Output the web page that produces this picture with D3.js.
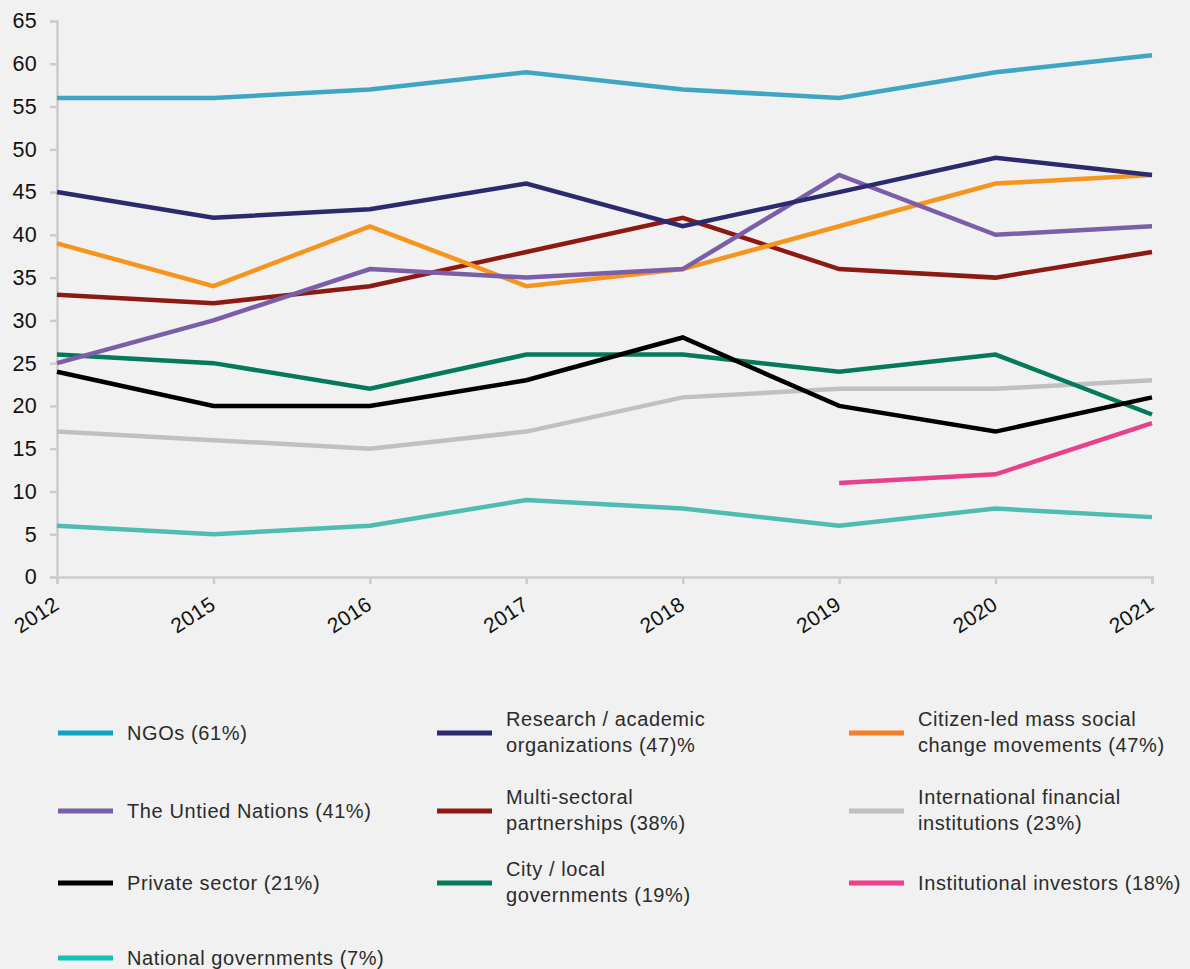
<!DOCTYPE html>
<html>
<head>
<meta charset="utf-8">
<script src="https://cdn.jsdelivr.net/npm/d3@7"></script>
<style>
  html, body { margin: 0; padding: 0; background: #f0f1f0; }
  svg { display: block; font-family: "Liberation Sans", Arial, sans-serif; }
</style>
</head>
<body>
<svg id="chart" width="1190" height="969"></svg>
<script>
const years = ['2012', '2015', '2016', '2017', '2018', '2019', '2020', '2021'];
const yTicks = [0, 5, 10, 15, 20, 25, 30, 35, 40, 45, 50, 55, 60, 65];

const ngos = [56, 56, 57, 59, 57, 56, 59, 61];
const research = [45, 42, 43, 46, 41, 45, 49, 47];
const citizen = [39, 34, 41, 34, 36, 41, 46, 47];
const unitedNations = [25, 30, 36, 35, 36, 47, 40, 41];
const multiSectoral = [33, 32, 34, 38, 42, 36, 35, 38];
const ifis = [17, 16, 15, 17, 21, 22, 22, 23];
const privateSector = [24, 20, 20, 23, 28, 20, 17, 21];
const cityGov = [26, 25, 22, 26, 26, 24, 26, 19];
const investors = [null, null, null, null, null, 11, 12, 18];
const nationalGov = [6, 5, 6, 9, 8, 6, 8, 7];

const seriesNames = [
    ['NGOs (61%)'],
    ['Research / academic', 'organizations (47)%'],
    ['Citizen-led mass social', 'change movements (47%)'],
    ['The Untied Nations (41%)'],
    ['Multi-sectoral', 'partnerships (38%)'],
    ['International financial', 'institutions (23%)'],
    ['Private sector (21%)'],
    ['City / local', 'governments (19%)'],
    ['Institutional investors (18%)'],
    ['National governments (7%)']
];
const seriesValues = [ngos, research, citizen, unitedNations, multiSectoral, ifis, privateSector, cityGov, investors, nationalGov];
const lineColors = ['#3ea6c3', '#2d296d', '#f7941d', '#7b5ea7', '#8c1a12', '#c0c0c0', '#000000', '#047a5b', '#e8418b', '#4fbcb3'];
const swatchColors = ['#0fa3c1', '#2d296d', '#f57e28', '#7b5ea7', '#8c1a12', '#c0c0c0', '#000000', '#047a5b', '#f03f8e', '#13c1b9'];

// drawing order: back to front
const drawOrder = [5, 9, 8, 7, 6, 4, 2, 3, 1, 0];

const svg = d3.select('#chart');

const x = d3.scalePoint().domain(years).range([57, 1152]);
const y = d3.scaleLinear().domain([0, 65]).range([577, 21]);

const axisColor = '#cccccc';
const fontFam = '"Liberation Sans", Arial, sans-serif';

// y axis
const yAxis = svg.append('g')
    .attr('transform', 'translate(57,0)')
    .call(d3.axisLeft(y).tickValues(yTicks).tickSize(7).tickPadding(13));
yAxis.select('.domain').attr('stroke', axisColor).attr('stroke-width', 2.5);
yAxis.selectAll('.tick line').attr('stroke', axisColor).attr('stroke-width', 2.5);
yAxis.selectAll('.tick text')
    .attr('font-size', 21.5)
    .attr('letter-spacing', 0.3)
    .attr('fill', '#111')
    .attr('font-family', fontFam);

// x axis
const xAxis = svg.append('g')
    .attr('transform', 'translate(0,577)')
    .call(d3.axisBottom(x).tickSize(7).tickSizeOuter(7));
xAxis.select('.domain').attr('stroke', axisColor).attr('stroke-width', 2.5);
xAxis.selectAll('.tick line').attr('stroke', axisColor).attr('stroke-width', 2.5);
xAxis.selectAll('.tick text')
    .attr('font-size', 21)
    .attr('letter-spacing', 0.3)
    .attr('fill', '#111')
    .attr('font-family', fontFam)
    .attr('text-anchor', 'end')
    .attr('x', 0)
    .attr('y', 0)
    .attr('dy', '0')
    .attr('transform', 'translate(3,31) rotate(-33)');

// lines
const line = d3.line()
    .defined(d => d != null)
    .x((d, i) => x(years[i]))
    .y(d => y(d));

drawOrder.forEach(k => {
    svg.append('path')
        .datum(seriesValues[k])
        .attr('fill', 'none')
        .attr('stroke', lineColors[k])
        .attr('stroke-width', 4.5)
        .attr('stroke-linejoin', 'miter')
        .attr('d', line);
});

// legend
const colX = [58, 437, 849];
const rowY = [733, 811, 883, 958];
seriesNames.forEach((name, i) => {
    const cx = colX[i % 3];
    const cy = rowY[Math.floor(i / 3)];
    const g = svg.append('g').attr('transform', `translate(${cx},${cy})`);
    g.append('line')
        .attr('x1', 0).attr('x2', 55)
        .attr('y1', 0).attr('y2', 0)
        .attr('stroke', swatchColors[i])
        .attr('stroke-width', 5);
    const t = g.append('text')
        .attr('x', 69)
        .attr('font-size', 20)
        .attr('letter-spacing', 0.6)
        .attr('fill', '#2b2b2b');
    if (name.length === 1) {
        t.append('tspan').attr('x', 69).attr('y', 7).text(name[0]);
    } else {
        t.append('tspan').attr('x', 69).attr('y', -7).text(name[0]);
        t.append('tspan').attr('x', 69).attr('y', 19).text(name[1]);
    }
});
</script>
</body>
</html>
